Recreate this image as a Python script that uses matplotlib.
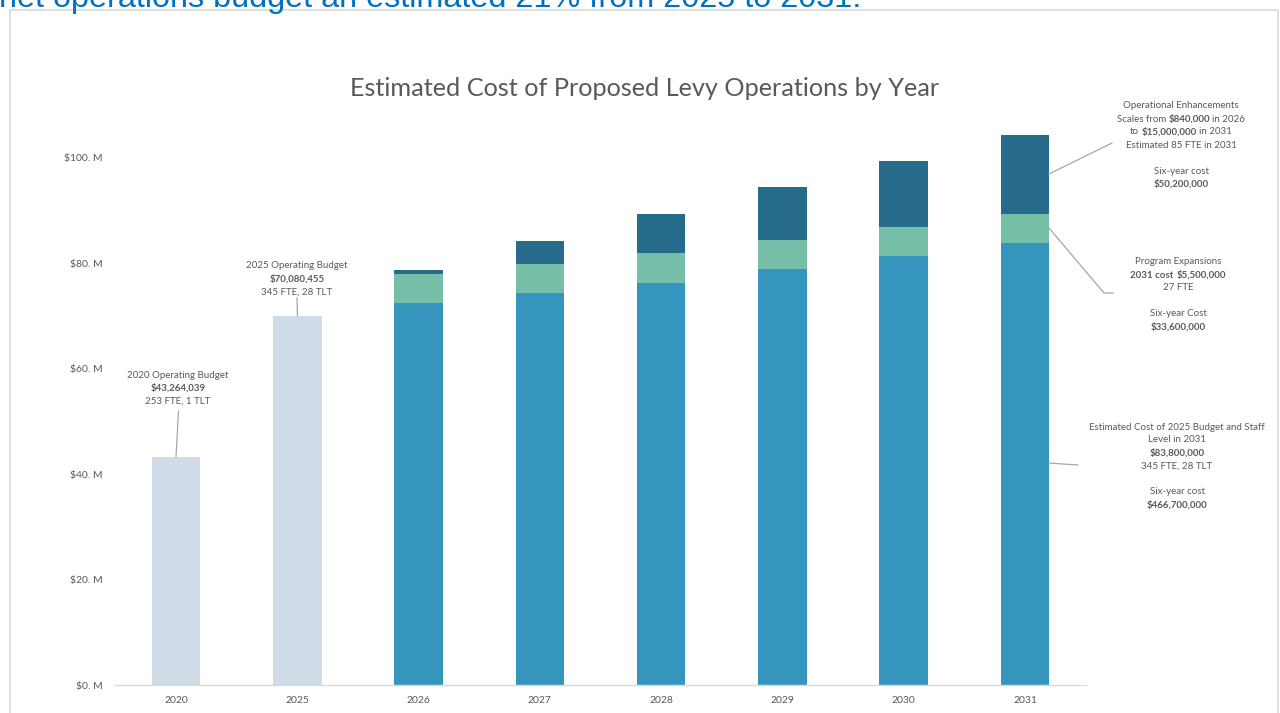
import matplotlib
matplotlib.use("Agg")
import matplotlib.pyplot as plt
from matplotlib.transforms import IdentityTransform
from matplotlib.patches import Rectangle
from matplotlib.lines import Line2D

# ---------------- data ----------------
years = ["2020", "2025", "2026", "2027", "2028", "2029", "2030", "2031"]
past_budget = [43.264, 70.080]                       # $M, 2020 and 2025
base_cost = [72.5, 74.4, 76.3, 78.9, 81.4, 83.8]     # $M, 2026-2031
program_exp = [5.5, 5.5, 5.6, 5.5, 5.5, 5.5]         # $M
operational_enh = [0.84, 4.35, 7.4, 10.1, 12.5, 15.0]  # $M
yticks = [0, 20, 40, 60, 80, 100]

C_PAST = "#CFDBE7"
C_BASE = "#3595BD"
C_PROG = "#76BEA8"
C_OPS = "#266C8A"
GRAY = "#595959"
FONT = ["Lato", "DejaVu Sans"]

W, H = 1280, 713
fig = plt.figure(figsize=(W / 100, H / 100), dpi=100)
fig.patch.set_facecolor("white")

# chart frame
fig.patches.append(Rectangle((10 / W, -0.01), (1278 - 10) / W, (H - 10) / H + 0.01,
                             transform=fig.transFigure, facecolor="white",
                             edgecolor="#D9D9D9", linewidth=1.2, zorder=-5))

# cut-off heading text above the chart (as in the reference)
fig.text(-1 / W, 1 - 7 / H, "net operations budget an estimated 21% from 2025 to 2031.",
         fontsize=23.3, color="#0070C0", family=["Liberation Sans", "DejaVu Sans"],
         ha="left", va="baseline", zorder=-4)

ax = fig.add_axes([115.3 / W, 1 - 685 / H, (1085.7 - 115.3) / W, (685 - 105.3) / H])
ax.set_facecolor("none")
x = list(range(len(years)))
bw = 0.4
ax.bar(x[:2], past_budget, width=bw, color=C_PAST, zorder=2)
xs = x[2:]
ax.bar(xs, base_cost, width=bw, color=C_BASE, zorder=2)
ax.bar(xs, program_exp, width=bw, bottom=base_cost, color=C_PROG, zorder=2)
bot2 = [a + b for a, b in zip(base_cost, program_exp)]
ax.bar(xs, operational_enh, width=bw, bottom=bot2, color=C_OPS, zorder=2)

ax.set_xlim(-0.5, len(years) - 0.5)
ax.set_ylim(0, 110)
ax.set_xticks(x)
ax.set_xticklabels(years, fontsize=7.5, color=GRAY, family=FONT)
ax.set_yticks(yticks)
ax.set_yticklabels([f"${v}. M" for v in yticks], fontsize=7.5, color=GRAY, family=FONT)
ax.tick_params(axis="both", length=0)
ax.tick_params(axis="x", pad=8)
ax.tick_params(axis="y", pad=9)
for s in ["top", "right", "left"]:
    ax.spines[s].set_visible(False)
ax.spines["bottom"].set_color("#D9D9D9")
ax.spines["bottom"].set_linewidth(1.0)

fig.text(645 / W, 1 - 88 / H, "Estimated Cost of Proposed Levy Operations by Year",
         fontsize=18.2, color=GRAY, family=FONT, ha="center", va="center")

# ---------- annotations (pixel-positioned rich text) ----------
renderer = fig.canvas.get_renderer()
ID = IdentityTransform()
ASIZE = 7


def measure(s, bold):
    t = fig.text(0, 0, s, fontsize=ASIZE, family=FONT,
                 fontweight="bold" if bold else "normal", transform=ID)
    w = t.get_window_extent(renderer).width
    t.remove()
    return w


SPACE = measure("a a", False) - measure("aa", False)


def rich_line(cx, cy, segs, color=GRAY):
    widths = [measure(s, b) for s, b in segs]
    total = sum(widths) + SPACE * (len(segs) - 1)
    xp = cx - total / 2
    for (s, b), w in zip(segs, widths):
        fig.text(xp, H - (cy + 3.5), s, fontsize=ASIZE, family=FONT,
                 fontweight="bold" if b else "normal", color=color,
                 ha="left", va="baseline", transform=ID)
        xp += w + SPACE


def block(cx, lines):
    for cy, segs in lines:
        if isinstance(segs, tuple):
            segs = [segs]
        rich_line(cx, cy, segs)


def leader(pts):
    xs_ = [p[0] for p in pts]
    ys_ = [H - p[1] for p in pts]
    fig.add_artist(Line2D(xs_, ys_, transform=ID, color="#A6A6A6", linewidth=0.9))


block(178, [
    (374, ("2020 Operating Budget", False)),
    (387, ("$43,264,039", True)),
    (400, ("253 FTE, 1 TLT", False)),
])
leader([(178.5, 411), (176, 457)])

block(297, [
    (265, ("2025 Operating Budget", False)),
    (278, ("$70,080,455", True)),
    (291, ("345 FTE, 28 TLT", False)),
])
leader([(297, 298), (297.5, 316)])

block(1181, [
    (105, ("Operational Enhancements", False)),
    (118, [("Scales from", False), ("$840,000", True), ("in 2026", False)]),
    (131, [("to", False), ("$15,000,000", True), ("in 2031", False)]),
    (144, ("Estimated 85 FTE in 2031", False)),
    (170, ("Six-year cost", False)),
    (183, ("$50,200,000", True)),
])
leader([(1049, 174), (1112, 143)])

block(1178, [
    (261, ("Program Expansions", False)),
    (274, [("2031 cost", True), ("$5,500,000", True)]),
    (287, ("27 FTE", False)),
    (313, ("Six-year Cost", False)),
    (326, ("$33,600,000", True)),
])
leader([(1049, 228), (1104, 293), (1113, 293)])

block(1177, [
    (426, ("Estimated Cost of 2025 Budget and Staff", False)),
    (439, ("Level in 2031", False)),
    (452, ("$83,800,000", True)),
    (465, ("345 FTE, 28 TLT", False)),
    (491, ("Six-year cost", False)),
    (504, ("$466,700,000", True)),
])
leader([(1049, 463), (1078, 465)])

fig.savefig("out.png", dpi=100, facecolor="white")
